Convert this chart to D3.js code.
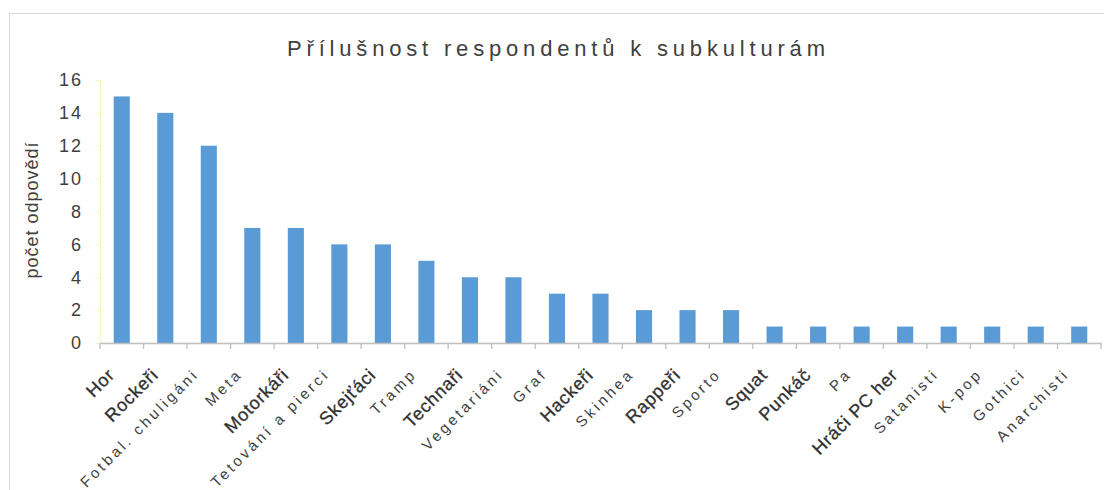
<!DOCTYPE html>
<html><head><meta charset="utf-8">
<script src="https://cdn.jsdelivr.net/npm/d3@7"></script>
<style>body{margin:0;background:#fff} svg{display:block}</style>
</head><body><svg id="c" width="1104" height="490"></svg>
<script>
const categories = ["Hor","Rockeři","Fotbal. chuligáni","Meta","Motorkáři","Tetování a pierci","Skejťáci","Tramp","Technaři","Vegetariáni","Graf","Hackeři","Skinhea","Rappeři","Sporto","Squat","Punkáč","Pa","Hráči PC her","Satanisti","K-pop","Gothici","Anarchisti"];
const values = [15,14,12,7,7,6,6,5,4,4,3,3,2,2,2,1,1,1,1,1,1,1,1];
const labelKind = ["b","b","l","l","b","l","b","l","b","l","l","b","l","b","l","b","b","l","b","l","l","l","l"];
const yTicks = [0,2,4,6,8,10,12,14,16];
const titleText = "Přílušnost respondentů k subkulturám";
const yTitle = "počet odpovědí";

const svg = d3.select("#c");
const W = 1104, H = 490;
const m = {left:100, right:3, top:80, bottom:147};
const narrow = "'Liberation Sans Narrow','Liberation Sans',sans-serif";

svg.append("rect").attr("x",9.5).attr("y",13.5).attr("width",1100).attr("height",490)
  .attr("fill","#fff").attr("stroke","#d9d9d9");

const x = d3.scaleBand().domain(categories).range([m.left, W - m.right]).paddingInner(0.63).paddingOuter(0.315);
const xb = d3.scaleBand().domain(categories).range([m.left, W - m.right]);
const y = d3.scaleLinear().domain([0,16]).range([H - m.bottom, m.top]);

// title
svg.append("text").attr("x",287).attr("y",56).attr("textLength",538).attr("lengthAdjust","spacing")
  .attr("font-family",narrow).attr("font-size",22)
  .attr("fill","#404040").text(titleText);

// bars
svg.append("g").selectAll("rect").data(values).join("rect")
  .attr("x",(d,i)=>x(categories[i])).attr("width",x.bandwidth())
  .attr("y",d=>y(d)).attr("height",d=>y(0)-y(d)).attr("fill","#5b9bd5");

// y axis
const ya = svg.append("g").attr("transform",`translate(${m.left},0)`)
  .call(d3.axisLeft(y).tickValues(yTicks).tickSize(5).tickPadding(8));
ya.select(".domain").attr("stroke","#f5f5c8").attr("stroke-width",1.2);
ya.selectAll(".tick line").attr("stroke","#f5f5c8");
ya.selectAll(".tick text").attr("font-family",narrow)
  .attr("font-size",18).attr("fill","#404040").attr("letter-spacing","2px").attr("dx","-4");

// x axis
const xa = svg.append("g").attr("transform",`translate(0,${y(0)})`)
  .call(d3.axisBottom(xb).tickSize(0).tickFormat(""));
xa.select(".domain").attr("stroke","#bfbfbf").attr("stroke-width",1.5);
xa.selectAll(".tick").remove();
const bounds = d3.range(categories.length+1).map(i => m.left + i*xb.step());
xa.selectAll("line.t").data(bounds).join("line").attr("class","t")
  .attr("x1",d=>d).attr("x2",d=>d).attr("y1",0).attr("y2",6).attr("stroke","#bfbfbf").attr("stroke-width",1.3);

// x labels
const lg = svg.append("g");
categories.forEach((c,i)=>{
  const cx = xb(c) + xb.bandwidth()/2;
  const bold = labelKind[i]==="b";
  const t = lg.append("text")
    .attr("transform",`translate(${cx - (bold?6:9)},${bold?376:375}) rotate(-45)`)
    .attr("text-anchor","end")
    .attr("font-family", bold ? "'Liberation Sans',sans-serif" : narrow)
    .attr("font-size", bold?18:15)
    .attr("letter-spacing", bold?"0.8px":"3px")
    .attr("fill", bold?"#303030":"#404040")
    .text(c);
  if(bold) t.attr("stroke","#303030").attr("stroke-width",0.3);
});

// y title
svg.append("text").attr("transform","translate(38,210) rotate(-90)").attr("text-anchor","middle")
  .attr("font-family","'Liberation Sans',sans-serif").attr("font-size",18).attr("letter-spacing","1px")
  .attr("fill","#404040").text(yTitle);
</script></body></html>
